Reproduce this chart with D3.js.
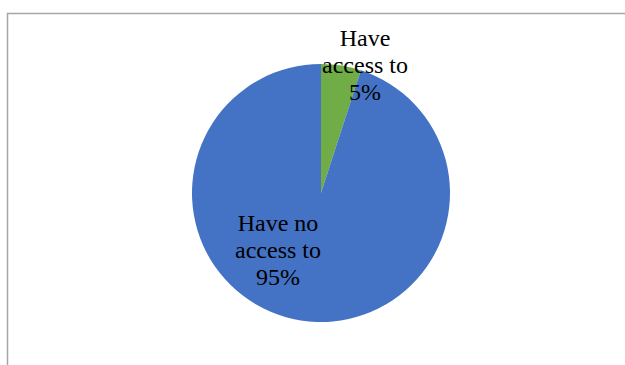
<!DOCTYPE html>
<html><head><meta charset="utf-8">
<script src="https://cdn.jsdelivr.net/npm/d3@7"></script>
<style>html,body{margin:0;padding:0;background:#fff;}svg{display:block;}
.lbl{font-family:"Liberation Serif","Times New Roman",Times,"DejaVu Serif",serif;font-size:24px;fill:#000;}</style>
</head><body>
<svg id="c" width="625" height="365"></svg>
<script>
const categories = ["Have access to", "Have no access to"];
const values = [5, 95];
const labelLines = [["Have", "access to", "5%"], ["Have no", "access to", "95%"]];
const colors = ["#70AD47", "#4472C4"];

const svg = d3.select("#c");
svg.append("path").attr("d", "M7.5,365 L7.5,13.5 L625,13.5").attr("fill", "none").attr("stroke", "#a6a6a6").attr("stroke-width", 1.5);

const cx = 321, cy = 193, r = 129;
const pie = d3.pie().sort(null).value(d => d)(values);
const arc = d3.arc().innerRadius(0).outerRadius(r);
const g = svg.append("g").attr("transform", `translate(${cx},${cy})`);
g.selectAll("path").data(pie).join("path").attr("d", arc).attr("fill", (d, i) => colors[i]);

const labelPos = [[44, -147], [-43, 38]];
labelLines.forEach((lines, i) => {
  const t = g.append("text").attr("text-anchor", "middle").attr("class", "lbl");
  lines.forEach((l, j) => t.append("tspan").attr("x", labelPos[i][0]).attr("y", labelPos[i][1] + j * 27).text(l));
});
</script>
</body></html>
